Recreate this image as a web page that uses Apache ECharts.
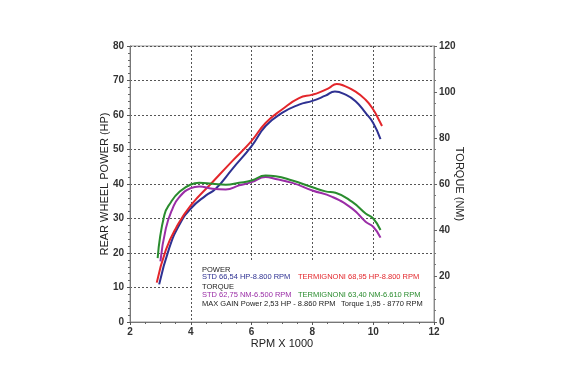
<!DOCTYPE html>
<html>
<head>
<meta charset="utf-8">
<script src="https://cdn.jsdelivr.net/npm/echarts@6/dist/echarts.min.js"></script>
<style>
  html, body { margin: 0; padding: 0; background: #fff; }
  #main { width: 565px; height: 375px; }
</style>
</head>
<body>
<div id="main"></div>
<script>
// power (HP) - left axis
var std_pw_rpm = [2.96, 3.29, 3.62, 4.0, 4.5, 4.82, 5.37, 6.0, 6.46, 7.0, 7.56, 8.0, 8.43, 8.74, 9.09, 9.42, 9.75, 10.0, 10.24];
var std_pw = [10.9, 21.4, 28.1, 32.9, 36.7, 38.6, 44.4, 51.0, 56.8, 60.6, 63.0, 64.1, 65.6, 66.8, 65.9, 64.0, 60.6, 57.7, 53.0];

var ter_pw_rpm = [2.88, 3.18, 3.51, 4.0, 4.71, 5.37, 6.0, 6.46, 7.0, 7.56, 8.0, 8.21, 8.54, 8.8, 8.98, 9.42, 9.75, 10.0, 10.18, 10.29];
var ter_pw = [11.4, 20.9, 27.2, 33.8, 40.5, 46.7, 52.5, 57.7, 61.6, 64.9, 65.9, 66.5, 67.8, 69.0, 68.7, 66.8, 64.4, 61.6, 58.7, 56.8];

// torque (NM) - right axis
var std_tq_rpm = [3.0, 3.18, 3.4, 3.62, 4.0, 4.28, 4.71, 5.15, 5.59, 6.0, 6.46, 6.79, 7.34, 8.0, 8.65, 9.31, 9.75, 10.0, 10.24];
var std_tq = [26.4, 40.7, 49.3, 54.3, 58.2, 58.9, 57.9, 57.6, 59.4, 60.8, 63.0, 62.2, 60.5, 57.2, 54.4, 49.3, 43.6, 41.4, 36.7];

var ter_tq_rpm = [2.91, 3.13, 3.35, 3.62, 4.0, 4.28, 4.71, 5.15, 5.59, 6.0, 6.46, 6.79, 7.34, 8.0, 8.43, 8.76, 9.31, 9.75, 10.0, 10.24];
var ter_tq = [27.8, 46.5, 52.2, 56.5, 59.8, 60.5, 60.1, 59.7, 60.5, 61.5, 63.7, 63.4, 61.5, 58.6, 56.8, 56.2, 52.2, 47.2, 45.0, 40.0];

// text block inside the plot: [text, colour, row, column]
var notes = [
  ['POWER', '#222', 0, 0],
  ['STD 66,54 HP-8.800 RPM', '#2e3192', 1, 0],
  ['TERMIGNONI 68,95 HP-8.800 RPM', '#e3262b', 1, 1],
  ['TORQUE', '#222', 2, 0],
  ['STD 62,75 NM-6.500 RPM', '#9a2da6', 3, 0],
  ['TERMIGNONI 63,40 NM-6.610 RPM', '#2a8c2e', 3, 1],
  ['MAX GAIN Power 2,53 HP - 8.860 RPM', '#222', 4, 0],
  ['Torque 1,95 - 8770 RPM', '#222', 4, 2]
];
var rowTop = [266, 273, 283, 291, 300];
var colLeft = [202, 298, 341];

function pairs(xs, ys) {
  return xs.map(function (x, i) { return [x, ys[i]]; });
}

var myChart = echarts.init(document.getElementById('main'));

var labelStyle = { color: '#333', fontSize: 10, fontWeight: 'bold', fontFamily: 'Liberation Sans' };
var nameStyle = { color: '#222', fontSize: 11, fontFamily: 'Liberation Sans' };
var dotted = { show: true, lineStyle: { color: '#555', type: [2, 2], width: 1 } };

// white panel behind the notes hides the grid lines there
var graphics = [{
  type: 'rect', left: 193, top: 262, z: 5,
  shape: { width: 240, height: 59 },
  style: { fill: '#fff' }
}];
notes.forEach(function (n) {
  graphics.push({
    type: 'text', left: colLeft[n[3]], top: rowTop[n[2]], z: 6,
    style: { text: n[0], fill: n[1], font: '7.5px "Liberation Sans"' }
  });
});

option = {
  animation: false,
  backgroundColor: '#fff',
  grid: { left: 130, right: 131, top: 46, bottom: 53, show: true, borderColor: '#999', borderWidth: 1 },
  xAxis: {
    type: 'value', min: 2, max: 12, interval: 2,
    name: 'RPM X 1000', nameLocation: 'middle', nameGap: 16, nameMoveOverlap: false,
    nameTextStyle: nameStyle,
    axisLine: { lineStyle: { color: '#777' } },
    axisTick: { show: true, length: 3, lineStyle: { color: '#555' } },
    minorTick: { show: true, splitNumber: 4, length: 2, lineStyle: { color: '#666' } },
    axisLabel: Object.assign({ margin: 5 }, labelStyle),
    splitLine: dotted
  },
  yAxis: [{
    type: 'value', min: 0, max: 80, interval: 10,
    name: 'REAR WHEEL POWER (HP)', nameLocation: 'middle', nameGap: 20, nameRotate: 90, nameMoveOverlap: false,
    nameTextStyle: nameStyle,
    axisLine: { show: true, lineStyle: { color: '#777' } },
    axisTick: { show: true, length: 3, lineStyle: { color: '#555' } },
    minorTick: { show: true, splitNumber: 5, length: 2, lineStyle: { color: '#666' } },
    axisLabel: Object.assign({ margin: 6 }, labelStyle),
    splitLine: dotted
  }, {
    type: 'value', min: 0, max: 120, interval: 20, position: 'right',
    name: 'TORQUE (NM)', nameLocation: 'middle', nameGap: 20, nameRotate: -90, nameMoveOverlap: false,
    nameTextStyle: nameStyle,
    axisLine: { show: true, lineStyle: { color: '#888' } },
    axisTick: { show: true, length: 3, lineStyle: { color: '#666' } },
    minorTick: { show: true, splitNumber: 4, length: 2, lineStyle: { color: '#777' } },
    axisLabel: Object.assign({ margin: 5 }, labelStyle),
    splitLine: { show: false }
  }],
  graphic: graphics,
  series: [{
    name: 'STD power', type: 'line', yAxisIndex: 0, smooth: true, showSymbol: false,
    data: pairs(std_pw_rpm, std_pw), lineStyle: { color: '#2e3192', width: 2 }
  }, {
    name: 'TERMIGNONI power', type: 'line', yAxisIndex: 0, smooth: true, showSymbol: false,
    data: pairs(ter_pw_rpm, ter_pw), lineStyle: { color: '#e3262b', width: 2 }
  }, {
    name: 'STD torque', type: 'line', yAxisIndex: 1, smooth: true, showSymbol: false,
    data: pairs(std_tq_rpm, std_tq), lineStyle: { color: '#9a2da6', width: 2 }
  }, {
    name: 'TERMIGNONI torque', type: 'line', yAxisIndex: 1, smooth: true, showSymbol: false,
    data: pairs(ter_tq_rpm, ter_tq), lineStyle: { color: '#2a8c2e', width: 2 }
  }]
};

myChart.setOption(option);
</script>
</body>
</html>
